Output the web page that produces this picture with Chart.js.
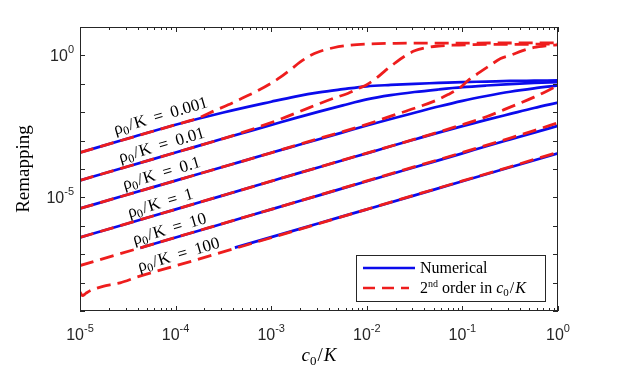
<!DOCTYPE html>
<html>
<head>
<meta charset="utf-8">
<title>Remapping vs c0/K</title>
<script src="https://cdn.jsdelivr.net/npm/chart.js@4.4.1/dist/chart.umd.min.js"></script>
<style>
    html, body { margin: 0; padding: 0; background: #fff; }
    canvas { display: block; }
</style>
</head>
<body>
<canvas id="remapChart" width="617" height="370"></canvas>
<script>
// Значения rho0/K для кривых
const rhoLabels = ['0.001', '0.01', '0.1', '1', '10', '100'];

// Численное решение: общая сетка c0/K
const cNum = [1e-5, 3.16e-5, 1e-4, 3.16e-4, 1e-3, 1.78e-3, 3.16e-3, 5.62e-3, 1e-2, 1.78e-2, 3.16e-2, 5.62e-2, 0.1, 0.178, 0.316, 0.562, 1];
const num0001 = [3.80e-4, 1.18e-3, 3.63e-3, 9.77e-3, 2.34e-2, 3.55e-2, 5.01e-2, 6.46e-2, 8.13e-2, 9.12e-2, 0.100, 0.107, 0.115, 0.120, 0.126, 0.129, 0.132];
const num001 = [3.98e-5, 1.23e-4, 3.80e-4, 1.18e-3, 3.55e-3, 6.17e-3, 1.05e-2, 1.74e-2, 2.82e-2, 3.98e-2, 5.13e-2, 6.31e-2, 7.59e-2, 8.71e-2, 9.77e-2, 0.107, 0.115];
const num01 = [4.07e-6, 1.26e-5, 3.89e-5, 1.20e-4, 3.72e-4, 6.46e-4, 1.12e-3, 1.95e-3, 3.39e-3, 5.75e-3, 9.55e-3, 1.58e-2, 2.51e-2, 3.72e-2, 5.25e-2, 6.92e-2, 8.71e-2];
const num1 = [3.89e-7, 1.20e-6, 3.80e-6, 1.18e-5, 3.72e-5, 6.61e-5, 1.15e-4, 2.04e-4, 3.55e-4, 6.31e-4, 1.10e-3, 1.91e-3, 3.24e-3, 5.37e-3, 8.71e-3, 1.41e-2, 2.19e-2];
// для rho0/K = 10 и 100 численная кривая начинается позже
const cNum10 = [4.27e-5, 5.62e-5, 1e-4, 3.16e-4, 1e-3, 3.16e-3, 1e-2, 3.16e-2, 0.1, 0.178, 0.316, 0.562, 1];
const num10 = [1.66e-7, 2.19e-7, 3.89e-7, 1.20e-6, 3.80e-6, 1.18e-5, 3.72e-5, 1.15e-4, 3.55e-4, 6.31e-4, 1.10e-3, 1.91e-3, 3.31e-3];
const cNum100 = [4.17e-4, 1e-3, 3.16e-3, 1e-2, 3.16e-2, 0.1, 0.316, 1];
const num100 = [1.70e-7, 3.98e-7, 1.23e-6, 3.80e-6, 1.18e-5, 3.72e-5, 1.15e-4, 3.55e-4];

// 2-й порядок по c0/K
const c2nd0001 = [1e-5, 3.16e-5, 1e-4, 1.78e-4, 2.51e-4, 3.55e-4, 5.01e-4, 7.08e-4, 1e-3, 1.26e-3, 1.58e-3, 2.00e-3, 2.51e-3, 3.16e-3, 4.47e-3, 6.31e-3, 1e-2, 2.00e-2, 0.1, 1];
const ord0001 = [3.80e-4, 1.18e-3, 3.63e-3, 6.46e-3, 1.10e-2, 1.82e-2, 3.16e-2, 5.50e-2, 0.105, 0.174, 0.309, 0.575, 0.955, 1.35, 1.86, 2.24, 2.51, 2.66, 2.72, 2.75];
const c2nd001 = [1e-5, 1e-4, 3.16e-4, 6.31e-4, 1.26e-3, 2.51e-3, 4.47e-3, 6.31e-3, 7.94e-3, 1e-2, 1.26e-2, 1.58e-2, 2.00e-2, 2.51e-2, 3.16e-2, 3.98e-2, 5.62e-2, 7.94e-2, 0.126, 0.316, 1];
const ord001 = [3.98e-5, 3.80e-4, 1.18e-3, 2.51e-3, 5.75e-3, 1.45e-2, 3.09e-2, 4.57e-2, 6.61e-2, 9.33e-2, 0.158, 0.302, 0.562, 0.955, 1.45, 1.82, 2.14, 2.29, 2.40, 2.45, 2.51];
const c2nd01 = [1e-5, 1e-4, 1e-3, 3.16e-3, 1e-2, 1.78e-2, 3.16e-2, 5.01e-2, 7.08e-2, 9.33e-2, 0.115, 0.151, 0.195, 0.251, 0.316, 0.427, 0.562, 0.759, 1];
const ord01 = [4.07e-6, 3.89e-5, 3.72e-4, 1.18e-3, 3.72e-3, 7.24e-3, 1.38e-2, 2.40e-2, 4.17e-2, 7.08e-2, 0.132, 0.251, 0.447, 0.776, 1.00, 1.48, 1.91, 2.19, 2.34];
const c2nd1 = [1e-5, 1e-4, 1e-3, 1e-2, 3.16e-2, 0.1, 0.178, 0.316, 0.562, 1];
const ord1 = [3.89e-7, 3.80e-6, 3.72e-5, 3.63e-4, 1.12e-3, 3.63e-3, 6.92e-3, 1.51e-2, 3.39e-2, 8.71e-2];
const c2nd10 = [1e-5, 1e-4, 1e-3, 1e-2, 0.1, 0.316, 0.562, 1];
const ord10 = [3.98e-8, 3.89e-7, 3.80e-6, 3.80e-5, 3.80e-4, 1.23e-3, 2.24e-3, 4.27e-3];
const c2nd100 = [1e-5, 1.06e-5, 1.15e-5, 1.29e-5, 1.74e-5, 2.19e-5, 2.63e-5, 3.98e-5, 1e-4, 1e-3, 1e-2, 0.1, 0.316, 1];
const ord100 = [4.68e-9, 3.47e-9, 4.17e-9, 5.25e-9, 7.41e-9, 8.71e-9, 9.77e-9, 1.58e-8, 3.89e-8, 3.80e-7, 3.80e-6, 3.80e-5, 1.20e-4, 3.89e-4];

// Подписи делений осей (показатели степени)
const xTickExp = [-5, -4, -3, -2, -1, 0];
const yTickExp = [-9, -8, -7, -6, -5, -4, -3, -2, -1, 0, 1];
const yLabelExp = [0, -5];

// Где стоят подписи кривых (в координатах данных)
const labelAnchorC = [2.38e-5, 2.69e-5, 2.96e-5, 3.33e-5, 3.76e-5, 4.25e-5];
const labelAnchorR = [1.41e-3, 1.45e-4, 1.63e-5, 1.68e-6, 1.88e-7, 2.11e-8];

const BLUE = '#0b0bec';
const RED = '#ee1d1d';
const AXIS = '#262626';
const SERIF = '"Liberation Serif", "Times New Roman", serif';
const SANS = '"Liberation Sans", Arial, sans-serif';

function pts(xs, ys) {
    return xs.map((c, i) => ({ x: c, y: ys[i] }));
}

const numSeries = [[cNum, num0001], [cNum, num001], [cNum, num01], [cNum, num1], [cNum10, num10], [cNum100, num100]];
const ordSeries = [[c2nd0001, ord0001], [c2nd001, ord001], [c2nd01, ord01], [c2nd1, ord1], [c2nd10, ord10], [c2nd100, ord100]];

const datasets = [];
numSeries.forEach(([xs, ys], i) => {
    datasets.push({
        label: 'Numerical, ρ0/K = ' + rhoLabels[i],
        data: pts(xs, ys),
        borderColor: BLUE,
        borderWidth: 2.7,
        order: 1
    });
});
ordSeries.forEach(([xs, ys], i) => {
    datasets.push({
        label: '2nd order, ρ0/K = ' + rhoLabels[i],
        data: pts(xs, ys),
        borderColor: RED,
        borderWidth: 2.8,
        borderDash: [14, 7],
        order: 0
    });
});

// Текст с индексами: кусочки с разными шрифтами
function richWidth(ctx, parts) {
    let w = 0;
    parts.forEach(p => { ctx.font = p.font; w += ctx.measureText(p.t).width + (p.gap || 0); });
    return w;
}
function drawRich(ctx, parts, x, y) {
    parts.forEach(p => {
        ctx.font = p.font;
        ctx.fillText(p.t, x, y + (p.dy || 0));
        x += ctx.measureText(p.t).width + (p.gap || 0);
    });
}

// Рамка, деления внутрь, подписи, легенда
const matlabAxes = {
    id: 'matlabAxes',
    afterDraw(chart) {
        const { ctx, chartArea: a, scales: { x, y } } = chart;
        ctx.save();
        ctx.strokeStyle = AXIS;
        ctx.fillStyle = AXIS;
        ctx.lineWidth = 1;
        ctx.strokeRect(a.left + 0.5, a.top + 0.5, a.right - a.left - 1, a.bottom - a.top - 1);

        ctx.beginPath();
        xTickExp.forEach(e => {
            for (let m = 1; m <= 9; m++) {
                if (e === 0 && m > 1) break;
                const px = Math.round(x.getPixelForValue(m * Math.pow(10, e))) + 0.5;
                const len = m === 1 ? 5 : 3;
                ctx.moveTo(px, a.bottom); ctx.lineTo(px, a.bottom - len);
                ctx.moveTo(px, a.top); ctx.lineTo(px, a.top + len);
            }
        });
        yTickExp.forEach(e => {
            const py = Math.round(y.getPixelForValue(Math.pow(10, e))) + 0.5;
            ctx.moveTo(a.left, py); ctx.lineTo(a.left + 5, py);
            ctx.moveTo(a.right, py); ctx.lineTo(a.right - 5, py);
        });
        ctx.stroke();

        // подписи делений
        ctx.textBaseline = 'alphabetic';
        ctx.textAlign = 'left';
        xTickExp.forEach(e => {
            const parts = [{ t: '10', font: `16px ${SANS}` }, { t: String(e), font: `11px ${SANS}`, dy: -8 }];
            const w = richWidth(ctx, parts);
            drawRich(ctx, parts, x.getPixelForValue(Math.pow(10, e)) - w / 2, 340);
        });
        yLabelExp.forEach(e => {
            const parts = [{ t: '10', font: `16px ${SANS}` }, { t: String(e), font: `11px ${SANS}`, dy: -8 }];
            const w = richWidth(ctx, parts);
            drawRich(ctx, parts, 74 - w, y.getPixelForValue(Math.pow(10, e)) + 6);
        });

        // названия осей
        ctx.fillStyle = '#000';
        ctx.save();
        ctx.translate(29, (a.top + a.bottom) / 2);
        ctx.rotate(-Math.PI / 2);
        ctx.textAlign = 'center';
        ctx.font = `19px ${SERIF}`;
        ctx.fillText('Remapping', 0, 0);
        ctx.restore();

        const xTitle = [
            { t: 'c', font: `italic 19px ${SERIF}` },
            { t: '0', font: `13px ${SERIF}`, dy: 4, gap: 1 },
            { t: '/', font: `19px ${SERIF}`, gap: 1 },
            { t: 'K', font: `italic 19px ${SERIF}` }
        ];
        drawRich(ctx, xTitle, (a.left + a.right) / 2 - richWidth(ctx, xTitle) / 2, 361);

        // подписи кривых
        rhoLabels.forEach((s, i) => {
            const parts = [
                { t: 'ρ', font: `17px ${SERIF}` },
                { t: '0', font: `12px ${SERIF}`, dy: 3, gap: 1 },
                { t: '/', font: `17px ${SERIF}`, gap: 1 },
                { t: 'K', font: `17px ${SERIF}`, gap: 8 },
                { t: '=', font: `17px ${SERIF}`, gap: 8 },
                { t: s, font: `17px ${SERIF}` }
            ];
            ctx.save();
            ctx.translate(x.getPixelForValue(labelAnchorC[i]), y.getPixelForValue(labelAnchorR[i]));
            ctx.rotate(-16.5 * Math.PI / 180);
            drawRich(ctx, parts, 0, -2);
            ctx.restore();
        });

        // легенда
        const lx = 356.5, ly = 255.5, lw = 189, lh = 46;
        ctx.fillStyle = '#fff';
        ctx.fillRect(lx, ly, lw, lh);
        ctx.strokeStyle = AXIS;
        ctx.lineWidth = 1;
        ctx.strokeRect(lx, ly, lw, lh);

        ctx.lineWidth = 2.7;
        ctx.strokeStyle = BLUE;
        ctx.beginPath(); ctx.moveTo(363, 268); ctx.lineTo(415, 268); ctx.stroke();
        ctx.strokeStyle = RED;
        ctx.setLineDash([12, 7]);
        ctx.beginPath(); ctx.moveTo(363, 288); ctx.lineTo(409, 288); ctx.stroke();
        ctx.setLineDash([]);

        ctx.fillStyle = '#000';
        drawRich(ctx, [{ t: 'Numerical', font: `16px ${SERIF}` }], 420, 273);
        drawRich(ctx, [
            { t: '2', font: `16px ${SERIF}` },
            { t: 'nd', font: `10px ${SERIF}`, dy: -6 },
            { t: ' order in ', font: `16px ${SERIF}` },
            { t: 'c', font: `italic 16px ${SERIF}` },
            { t: '0', font: `11px ${SERIF}`, dy: 3, gap: 1 },
            { t: '/', font: `16px ${SERIF}`, gap: 1 },
            { t: 'K', font: `italic 16px ${SERIF}` }
        ], 420, 293);
        ctx.restore();
    }
};

document.addEventListener('DOMContentLoaded', function() {
    const ctx = document.getElementById('remapChart').getContext('2d');
    new Chart(ctx, {
        type: 'line',
        data: { datasets: datasets },
        options: {
            responsive: false,
            animation: false,
            layout: { padding: { left: 80, right: 59, top: 27, bottom: 59 } },
            plugins: { legend: { display: false }, tooltip: { enabled: false } },
            elements: {
                point: { radius: 0 },
                line: { fill: false, cubicInterpolationMode: 'monotone' }
            },
            scales: {
                x: { type: 'logarithmic', min: 1e-5, max: 1, display: false },
                y: { type: 'logarithmic', min: 1e-9, max: 10, display: false }
            }
        },
        plugins: [matlabAxes]
    });
});
</script>
</body>
</html>
